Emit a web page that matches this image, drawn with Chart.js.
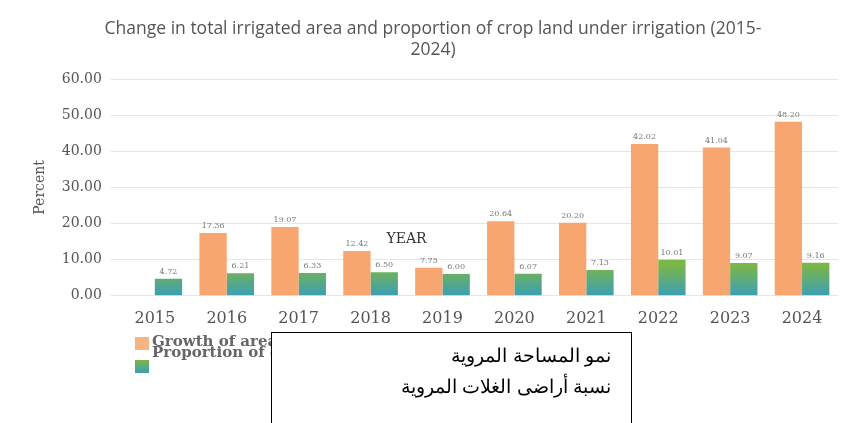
<!DOCTYPE html>
<html>
<head>
<meta charset="utf-8">
<script src="https://cdn.jsdelivr.net/npm/chart.js@4.4.0/dist/chart.umd.min.js"></script>
<style>
  body { margin: 0; background: #fff; }
  #wrap { position: relative; width: 846px; height: 423px; overflow: hidden; }
  #box { position: absolute; left: 0; top: 0; width: 846px; height: 333px; }
  .leg { position: absolute; left: 152px; font: bold 15px "DejaVu Serif"; color: #666; line-height: 15px; white-space: nowrap; }
  .sw { position: absolute; left: 135px; width: 14px; height: 13px; }
  #ar { position: absolute; left: 271px; top: 332px; width: 361px; height: 100px; border: 1.5px solid #000; background: #fff;
        font: 19px "Liberation Sans"; direction: rtl; text-align: right; box-sizing: border-box; padding: 7px 20px 0 0; line-height: 31px; color: #000; }
</style>
</head>
<body>
<div id="wrap">
  <div id="box"><canvas id="myChart"></canvas></div>
  <div class="sw" style="top:337px;background:#f8b383"></div>
  <div class="sw" style="top:360px;background:linear-gradient(#7ab648,#3a9fb5)"></div>
  <div class="leg" style="top:334px" id="l0"></div>
  <div class="leg" style="top:345px" id="l1"></div>
  <div id="ar">نمو المساحة المروية<br>نسبة أراضى الغلات المروية</div>
</div>
<script>
var years = ["2015", "2016", "2017", "2018", "2019", "2020", "2021", "2022", "2023", "2024"];
var growthArea = [null, 17.36, 19.07, 12.42, 7.75, 20.64, 20.20, 42.02, 41.04, 48.20];
var propCrop = [4.72, 6.21, 6.33, 6.50, 6.00, 6.07, 7.13, 10.01, 9.07, 9.16];
var seriesNames = ["Growth of area under irrigation", "Proportion of crop land under irrigation"];
var titleLines = ["Change in total irrigated area and proportion of crop land under irrigation (2015-", "2024)"];

document.getElementById('l0').textContent = seriesNames[0];
document.getElementById('l1').textContent = seriesNames[1];

// little numbers over each bar
var barLabels = {
    id: 'barLabels',
    afterDatasetsDraw: function(chart) {
        var ctx = chart.ctx;
        ctx.save();
        ctx.font = '8px "DejaVu Serif"';
        ctx.fillStyle = '#777';
        ctx.textAlign = 'center';
        chart.data.datasets.forEach(function(ds, i) {
            chart.getDatasetMeta(i).data.forEach(function(bar, j) {
                if (ds.data[j] == null) return;
                ctx.fillText(ds.data[j].toFixed(2), bar.x, bar.y - 5);
            });
        });
        // the stray axis name in the middle of the plot
        var x = chart.scales.x;
        ctx.font = '14px "DejaVu Serif"';
        ctx.fillStyle = '#333';
        ctx.fillText('YEAR', (x.getPixelForValue(3) + x.getPixelForValue(4)) / 2, chart.scales.y.getPixelForValue(14.5));
        ctx.restore();
    }
};

function greenFill(context) {
    var area = context.chart.chartArea;
    if (!area) return '#7ab648';
    var g = context.chart.ctx.createLinearGradient(0, area.bottom, 0, area.bottom - 30);
    g.addColorStop(0, '#3a9fb5');
    g.addColorStop(1, '#7ab648');
    return g;
}

var ctx = document.getElementById('myChart').getContext('2d');
var myChart = new Chart(ctx, {
    type: 'bar',
    data: {
        labels: years,
        datasets: [{
            label: seriesNames[0],
            data: growthArea,
            backgroundColor: '#f8a66f',
            categoryPercentage: 0.76,
            barPercentage: 1.0
        }, {
            label: seriesNames[1],
            data: propCrop,
            backgroundColor: greenFill,
            categoryPercentage: 0.76,
            barPercentage: 1.0
        }]
    },
    options: {
        responsive: true,
        maintainAspectRatio: false,
        animation: false,
        layout: { padding: { left: 28, right: 8, top: 0 } },
        plugins: {
            legend: { display: false },
            tooltip: { enabled: false },
            title: {
                display: true,
                text: titleLines,
                color: '#555',
                font: { family: 'Open Sans', size: 17.5, weight: 'normal' },
                lineHeight: 1.35,
                padding: { top: 19, bottom: 18 }
            }
        },
        scales: {
            x: {
                grid: { display: false },
                border: { display: false },
                ticks: { color: '#555', padding: 5, font: { family: 'DejaVu Serif', size: 16 } }
            },
            y: {
                min: 0,
                max: 60,
                ticks: {
                    stepSize: 10,
                    color: '#555',
                    padding: 9,
                    font: { family: 'DejaVu Serif', size: 14 },
                    callback: function(v) { return v.toFixed(2); }
                },
                grid: { color: '#e6e6e6' },
                border: { display: false },
                title: { display: true, text: 'Percent', color: '#555', font: { family: 'DejaVu Serif', size: 14 } }
            }
        }
    },
    plugins: [barLabels]
});
</script>
</body>
</html>
